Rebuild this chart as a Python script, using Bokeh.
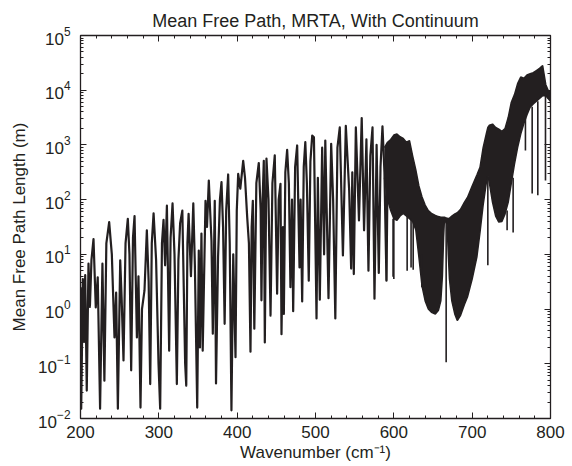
import numpy as np
from bokeh.plotting import figure
from bokeh.models import LinearAxis, LogAxis, Range1d, FixedTicker, LogTicker
from bokeh.embed import file_html
from bokeh.resources import INLINE

# ---- data (wavenumber in cm^-1, mean free path as log10 of metres) ----
line_wn = [200.0, 200.9, 203.0, 204.5, 206.0, 208.0, 210.2, 212.0, 214.0, 216.6, 219.5, 222.0, 225.0,
           228.0, 230.5, 233.0, 236.6, 240.0, 243.4, 245.5, 247.7, 250.7, 252.5, 254.9, 257.5, 260.4,
           262.5, 264.7, 267.0, 269.0, 272.0, 274.0, 276.6, 278.5, 281.7, 284.7, 287.0, 289.0, 291.0,
           293.3, 296.5, 299.6, 301.7, 304.0, 306.0, 308.0, 310.3, 313.2, 315.0, 317.5, 320.0, 323.0,
           325.0, 327.2, 330.0, 333.6, 335.0, 336.5, 338.0, 341.0, 344.0, 346.0, 349.0, 351.0, 352.5,
           354.4, 356.0, 359.6, 361.5, 363.8, 367.2, 368.9, 371.4, 373.0, 375.6, 378.0, 380.0, 382.0,
           384.0, 386.0, 388.5, 390.5, 392.7, 395.0, 397.9, 399.5, 401.3, 404.0, 407.7, 410.0, 412.8,
           415.0, 417.0, 418.5, 420.0, 421.9, 424.5, 427.6, 430.0, 431.0, 432.5, 434.0, 435.3, 437.4,
           440.0, 442.6, 445.0, 448.0, 451.0, 453.0, 455.3, 456.6, 458.5, 459.6, 461.5, 463.8, 466.0,
           468.0, 470.0, 471.5, 474.0, 476.6, 479.6, 481.0, 483.0, 485.0, 487.0, 489.0, 491.4, 493.5,
           495.8, 498.0, 501.3, 503.0, 505.5, 508.5, 511.0, 512.5, 516.6, 520.0, 522.5, 525.3, 528.0,
           531.0, 535.0, 538.7, 543.0, 545.5, 547.0, 548.9, 551.5, 555.5, 559.0, 562.0, 565.0, 567.6,
           570.0, 572.8, 575.3, 578.0, 580.8, 583.0, 585.5, 588.0, 590.6, 592.0]
line_log10 = [0.40, -1.82, 0.55, -0.60, 0.62, -1.49, 0.83, 0.04, 0.90, 1.28, 0.03, 0.58, -1.82,
              0.83, -1.31, 1.20, 1.59, 1.00, -0.52, 0.30, -1.82, 0.89, 0.20, -0.94, 1.20, 1.65,
              1.00, -1.12, 1.30, 1.70, -0.52, 0.60, -1.80, 0.00, 0.34, 1.44, 0.50, -1.37, 1.20,
              1.75, 0.90, -1.00, -1.82, 1.20, 1.63, 0.80, 1.89, -0.76, 1.30, 1.93, 1.00, -1.37,
              0.90, 1.57, 1.80, -1.00, -1.40, 1.20, 1.74, 0.60, 1.93, 0.80, -1.80, 1.07, -0.70,
              1.38, -0.76, 1.98, 1.50, 2.35, 1.25, -0.45, 1.98, -1.36, 0.95, 2.00, 2.32, 1.50,
              -0.27, 1.80, 2.46, 1.20, -1.85, 1.00, -0.88, 1.80, 2.47, 2.20, 2.71, 2.40, 1.68,
              1.20, -0.78, 1.50, 1.98, -0.36, 2.30, 2.67, 1.80, 0.16, 2.00, 2.71, -0.61, 2.75,
              2.00, -0.12, 2.30, 2.81, 0.28, 2.00, 2.29, -0.46, 1.50, -0.09, 2.50, 2.91, 2.30,
              0.40, 2.00, -0.04, 2.60, 2.99, 0.76, 2.00, 0.14, 2.60, 3.05, 2.30, 0.52, 2.70,
              3.17, 3.14, -0.17, 2.40, 0.17, 2.95, 1.00, 3.08, 0.20, 3.02, 2.00, -0.17, 2.95,
              3.32, 0.98, 3.35, 2.17, 0.74, 2.50, 0.64, 3.32, 1.62, 3.49, 1.44, 3.10, 0.70,
              2.80, 3.32, 0.19, 3.00, 0.66, 2.60, 3.34, 2.50, 0.52, 2.40]

# dense (unresolved) part of the spectrum: upper and lower envelopes
band_wn = [588, 592, 596, 600, 604, 608, 612, 616, 620, 624, 628, 632, 636, 640, 644, 648, 653,
           657, 660, 662, 663.5, 664.5, 666, 668, 669.5, 671, 674, 678, 681, 685, 690, 694, 700,
           706, 710, 714, 718, 720, 722, 726, 730, 734, 738, 742, 746, 750, 754, 758, 762, 766,
           770, 774, 778, 782, 786, 790, 794, 797, 800]
band_upper_log10 = [2.95, 3.05, 3.10, 3.18, 3.20, 3.15, 3.12, 3.05, 3.08, 2.80, 2.55, 2.25, 2.05,
                    1.90, 1.80, 1.75, 1.71, 1.69, 1.68, 1.68, 1.68, 1.68, 1.67, 1.66, 1.65, 1.66,
                    1.70, 1.74, 1.76, 1.82, 1.95, 2.04, 2.25, 2.45, 2.59, 2.95, 3.20, 3.32, 3.36,
                    3.38, 3.32, 3.29, 3.25, 3.30, 3.50, 3.78, 3.92, 4.12, 4.24, 4.22, 4.28, 4.30,
                    4.32, 4.36, 4.40, 4.45, 4.10, 4.00, 3.95]
band_lower_log10 = [2.40, 2.00, 1.80, 1.65, 1.62, 1.70, 1.75, 1.70, 1.65, 1.60, 1.45, 0.95, 0.42,
                    0.15, 0.00, -0.06, -0.09, -0.02, 0.15, 0.60, 1.30, 1.60, 1.60, 1.55, 1.00, 0.55,
                    0.15, -0.10, -0.21, -0.12, 0.08, 0.22, 0.55, 0.95, 1.40, 1.90, 2.30, 2.45, 2.30,
                    1.95, 1.70, 1.59, 1.60, 1.74, 1.95, 2.30, 2.65, 2.95, 3.20, 3.39, 3.55, 3.69,
                    3.75, 3.80, 3.85, 3.90, 3.90, 3.85, 3.80]

# narrow absorption lines reaching below the dense band
spike_wn = [590.6, 599.0, 600.0, 617.0, 622.0, 624.7, 635.7, 666.8, 720.0, 744.6, 752.3, 768.0,
            776.6, 783.8, 793.6]
spike_top_log10 = [2.30, 1.65, 1.65, 1.70, 1.65, 1.60, 1.00, 1.60, 2.40, 1.80, 2.40, 3.50,
                   3.70, 3.80, 3.90]
spike_bottom_log10 = [0.52, 0.59, 0.55, 0.70, 0.76, 0.72, 0.40, -0.97, 0.80, 1.44, 1.40, 2.90,
                      2.11, 2.08, 2.35]

x_ticks = [200, 300, 400, 500, 600, 700, 800]

INK = "#231f20"
FONT = "Liberation Sans"

p = figure(width=572, height=466, output_backend="svg", toolbar_location=None,
           y_axis_type="log", x_range=Range1d(200, 800), y_range=Range1d(1e-2, 1e5),
           min_border_left=80, min_border_right=22, min_border_top=35, min_border_bottom=48,
           title="Mean Free Path, MRTA, With Continuum")
p.title.align = "center"
p.title.text_font = FONT
p.title.text_font_size = "18px"
p.title.text_font_style = "normal"
p.title.text_color = INK
p.title.offset = 0
p.title.standoff = 10

p.grid.visible = False
p.outline_line_color = INK
p.outline_line_width = 1.3
p.background_fill_color = "white"
p.border_fill_color = "white"

lw = np.array(line_wn)
lv = 10.0 ** np.array(line_log10)
bw = np.array(band_wn)
bu = 10.0 ** np.array(band_upper_log10)
bl = 10.0 ** np.array(band_lower_log10)

p.varea(x=bw, y1=bl, y2=bu, fill_color=INK)
p.line(bw, bu, line_color=INK, line_width=1.5)
p.line(bw, bl, line_color=INK, line_width=1.5)
p.line(lw, lv, line_color=INK, line_width=2.2, line_join="round")
p.segment(x0=spike_wn, y0=[10.0 ** v for v in spike_top_log10],
          x1=spike_wn, y1=[10.0 ** v for v in spike_bottom_log10],
          line_color=INK, line_width=1.6)

def style_axis(ax, labels=True):
    ax.axis_line_color = None
    ax.major_tick_in = 6
    ax.major_tick_out = 0
    ax.minor_tick_in = 3
    ax.minor_tick_out = 0
    ax.major_tick_line_color = INK
    ax.minor_tick_line_color = INK
    ax.major_label_text_font = FONT
    ax.major_label_text_font_size = "17px"
    ax.major_label_text_color = INK
    ax.axis_label_text_font = FONT
    ax.axis_label_text_font_size = "17px"
    ax.axis_label_text_font_style = "normal"
    ax.axis_label_text_color = INK
    if not labels:
        ax.major_label_text_font_size = "0px"
        ax.major_label_text_alpha = 0
        ax.major_label_standoff = 0

xb = p.xaxis[0]
xb.ticker = FixedTicker(ticks=x_ticks, minor_ticks=list(range(200, 801, 20)))
xb.axis_label = "Wavenumber (cm\u207b\u00b9)"
style_axis(xb)
xb.major_label_standoff = 7
xb.axis_label_standoff = 2

yl = p.yaxis[0]
yl.ticker = LogTicker(num_minor_ticks=10)
yl.axis_label = "Mean Free Path Length (m)"
style_axis(yl)
yl.major_label_standoff = 10
yl.axis_label_standoff = 6

xt = LinearAxis(ticker=FixedTicker(ticks=x_ticks, minor_ticks=list(range(200, 801, 20))))
style_axis(xt, labels=False)
p.add_layout(xt, "above")

yr = LogAxis(ticker=LogTicker(num_minor_ticks=10))
style_axis(yr, labels=False)
p.add_layout(yr, "right")

open("out.html", "w").write(file_html(p, INLINE))
